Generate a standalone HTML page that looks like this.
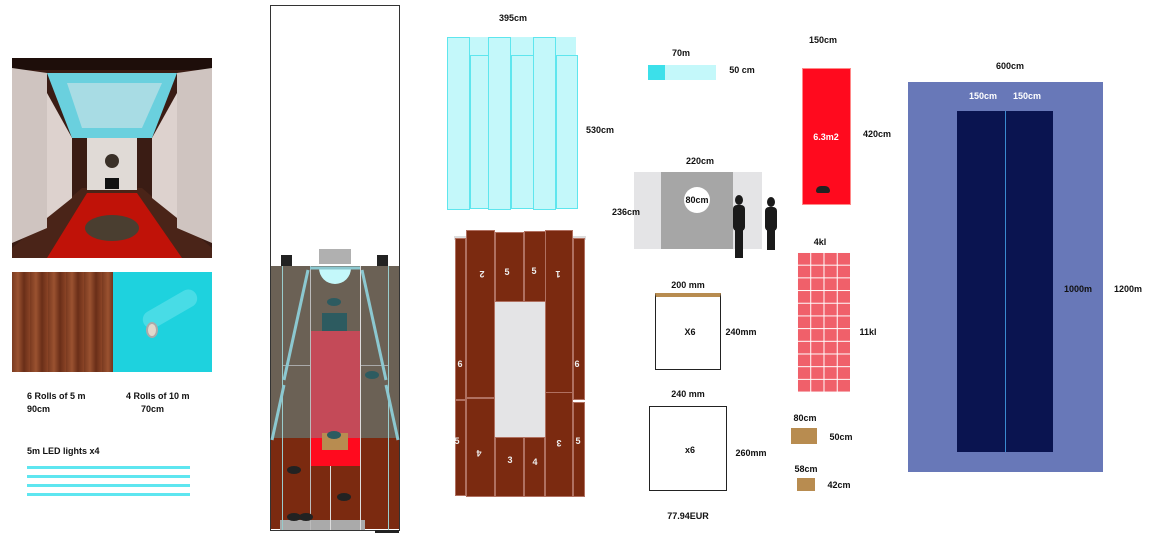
<!DOCTYPE html>
<html><head><meta charset="utf-8"><style>
body{margin:0;width:1161px;height:534px;background:#fff;position:relative;overflow:hidden;font-family:"Liberation Sans",sans-serif;font-weight:bold;font-size:9px;color:#111}
div{position:absolute;box-sizing:border-box}
.t{white-space:nowrap;transform:translate(-50%,-50%);z-index:5}
.tl{white-space:nowrap}
.cy{background:#c4f8fa;border:1px solid #5ee6ee}
.pl{background:#7b2a10;border:1px solid #b07060}
.pn{color:#eee;font-size:9px}
</style></head><body>
<!-- photo -->
<svg style="position:absolute;left:12px;top:58px" width="200" height="200">
<rect width="200" height="200" fill="#3a1c14"/>
<rect width="200" height="12" fill="#1e0e0a"/>
<polygon points="0,200 0,190 70,130 130,130 200,190 200,200" fill="#4a2418"/>
<polygon points="75,135 125,135 170,200 35,200" fill="#c01208"/>
<polygon points="35,15 165,15 140,80 60,80" fill="#6ad0de"/>
<polygon points="55,25 150,25 130,70 70,70" fill="#a8dce4"/>
<rect x="75" y="80" width="50" height="52" fill="#e0dad6"/>
<polygon points="0,10 35,15 35,170 0,185" fill="#cfc4c0"/>
<polygon points="35,35 60,80 60,140 35,160" fill="#ddd2ce"/>
<polygon points="200,10 165,15 165,170 200,185" fill="#cfc4c0"/>
<polygon points="165,35 140,80 140,140 165,160" fill="#ddd2ce"/>
<circle cx="100" cy="103" r="7" fill="#3a3028"/>
<rect x="93" y="120" width="14" height="11" fill="#111"/>
<ellipse cx="100" cy="170" rx="27" ry="13" fill="#4a3e30"/>
</svg>
<!-- wood & cyan -->
<div style="left:12px;top:272px;width:101px;height:100px;background:repeating-linear-gradient(90deg,#7a3a20 0,#9a5230 6px,#6a2e18 12px,#8a4426 18px)"></div>
<div style="left:113px;top:272px;width:99px;height:100px;background:#1ed2de"></div>
<div style="left:140px;top:300px;width:60px;height:18px;background:#48dce6;transform:rotate(-30deg);border-radius:9px"></div>
<div style="left:146px;top:322px;width:12px;height:16px;border-radius:50%;background:#e0d8cc;border:2px solid #aaa"></div>
<div class="tl" style="left:27px;top:391px">6 Rolls of 5 m</div>
<div class="tl" style="left:27px;top:404px">90cm</div>
<div class="tl" style="left:126px;top:391px">4 Rolls of 10 m</div>
<div class="tl" style="left:141px;top:404px">70cm</div>
<div class="tl" style="left:27px;top:446px">5m LED lights x4</div>
<div style="left:27px;top:466px;width:163px;height:3px;background:#5ee6f0"></div>
<div style="left:27px;top:475px;width:163px;height:3px;background:#5ee6f0"></div>
<div style="left:27px;top:484px;width:163px;height:3px;background:#5ee6f0"></div>
<div style="left:27px;top:493px;width:163px;height:3px;background:#5ee6f0"></div>
<!-- floor plan -->
<div style="left:270px;top:5px;width:130px;height:526px;border:1px solid #333"></div>
<div style="left:271px;top:266px;width:128px;height:172px;background:#6b6155"></div>
<div style="left:271px;top:438px;width:128px;height:91px;background:#7b2a10"></div>
<div style="left:282px;top:365px;width:28px;height:1px;background:#aaa"></div>
<div style="left:360px;top:365px;width:28px;height:1px;background:#aaa"></div>
<div style="left:310px;top:331px;width:50px;height:107px;background:#c44a58"></div>
<div style="left:310px;top:438px;width:50px;height:28px;background:#ff0a1e"></div>
<div style="left:322px;top:433px;width:26px;height:17px;background:#b88c50"></div>
<div style="left:322px;top:313px;width:25px;height:18px;background:#2d5b60"></div>
<div style="left:319px;top:268px;width:32px;height:16px;border-radius:0 0 16px 16px;background:#c4f8fa"></div>
<div style="left:319px;top:249px;width:32px;height:15px;background:#b0b0b0"></div>
<div style="left:281px;top:255px;width:11px;height:11px;background:#222"></div>
<div style="left:377px;top:255px;width:11px;height:11px;background:#222"></div>
<div style="left:280px;top:520px;width:85px;height:10px;background:#aaa"></div>
<div style="left:375px;top:530px;width:24px;height:3px;background:#222"></div>
<div style="left:282px;top:266px;width:1px;height:264px;background:#9cc"></div>
<div style="left:388px;top:266px;width:1px;height:264px;background:#9cc"></div>
<div style="left:310px;top:266px;width:1px;height:264px;background:#bbb"></div>
<div style="left:360px;top:266px;width:1px;height:264px;background:#ddd"></div>
<div style="left:330px;top:466px;width:1px;height:64px;background:#ddd"></div>
<svg style="position:absolute;left:270px;top:260px" width="130" height="280">
<g stroke="#8cc8d0" stroke-width="3" fill="none"><line x1="40" y1="8" x2="90" y2="8"/><line x1="38" y1="10" x2="14" y2="120"/><line x1="14" y1="125" x2="2" y2="180"/><line x1="92" y1="10" x2="116" y2="120"/><line x1="116" y1="125" x2="128" y2="180"/></g>
<g fill="#2d5b60"><ellipse cx="64" cy="42" rx="7" ry="4"/><ellipse cx="102" cy="115" rx="7" ry="4"/><ellipse cx="64" cy="175" rx="7" ry="4"/></g>
<g fill="#222"><ellipse cx="24" cy="210" rx="7" ry="4"/><ellipse cx="74" cy="237" rx="7" ry="4"/><ellipse cx="24" cy="257" rx="7" ry="4"/><ellipse cx="36" cy="257" rx="7" ry="4"/></g>
</svg>
<!-- cyan panels -->
<div class="cy" style="left:447px;top:37px;width:129px;height:20px;border:none"></div>
<div class="cy" style="left:470px;top:55px;width:19px;height:154px"></div>
<div class="cy" style="left:511px;top:55px;width:23px;height:154px"></div>
<div class="cy" style="left:556px;top:55px;width:22px;height:154px"></div>
<div class="cy" style="left:447px;top:37px;width:23px;height:173px"></div>
<div class="cy" style="left:488px;top:37px;width:23px;height:173px"></div>
<div class="cy" style="left:533px;top:37px;width:23px;height:173px"></div>
<div class="t" style="left:513px;top:18px">395cm</div>
<div class="t" style="left:600px;top:130px">530cm</div>
<!-- planks -->
<div style="left:454px;top:236px;width:132px;height:4px;background:#ddd"></div>
<div class="pl" style="left:455px;top:238px;width:11px;height:162px"></div>
<div class="pl" style="left:455px;top:400px;width:11px;height:96px"></div>
<div class="pl" style="left:466px;top:230px;width:29px;height:168px"></div>
<div class="pl" style="left:466px;top:398px;width:29px;height:99px"></div>
<div class="pl" style="left:495px;top:232px;width:29px;height:70px"></div>
<div class="pl" style="left:524px;top:231px;width:29px;height:71px"></div>
<div class="pl" style="left:545px;top:230px;width:28px;height:168px"></div>
<div class="pl" style="left:573px;top:238px;width:12px;height:162px"></div>
<div style="left:495px;top:302px;width:50px;height:136px;background:#e4e4e6"></div>
<div class="pl" style="left:495px;top:437px;width:29px;height:60px"></div>
<div class="pl" style="left:524px;top:437px;width:21px;height:60px"></div>
<div class="pl" style="left:545px;top:392px;width:28px;height:105px"></div>
<div class="pl" style="left:573px;top:402px;width:12px;height:95px"></div>
<div class="t pn" style="left:482px;top:274px;transform:translate(-50%,-50%) rotate(180deg)">2</div>
<div class="t pn" style="left:507px;top:272px">5</div>
<div class="t pn" style="left:534px;top:271px">5</div>
<div class="t pn" style="left:558px;top:274px;transform:translate(-50%,-50%) rotate(180deg)">1</div>
<div class="t pn" style="left:460px;top:364px">6</div>
<div class="t pn" style="left:577px;top:364px">6</div>
<div class="t pn" style="left:457px;top:441px">5</div>
<div class="t pn" style="left:578px;top:441px">5</div>
<div class="t pn" style="left:479px;top:453px;transform:translate(-50%,-50%) rotate(180deg)">4</div>
<div class="t pn" style="left:510px;top:460px">3</div>
<div class="t pn" style="left:535px;top:462px">4</div>
<div class="t pn" style="left:559px;top:443px;transform:translate(-50%,-50%) rotate(180deg)">3</div>
<!-- 70m -->
<div class="t" style="left:681px;top:53px">70m</div>
<div style="left:648px;top:65px;width:68px;height:15px;background:#c4f8fa"></div>
<div style="left:648px;top:65px;width:17px;height:15px;background:#3ce0ea"></div>
<div class="t" style="left:742px;top:70px">50 cm</div>
<!-- grey box -->
<div class="t" style="left:700px;top:161px">220cm</div>
<div style="left:634px;top:172px;width:128px;height:77px;background:#e4e4e6"></div>
<div style="left:661px;top:172px;width:72px;height:77px;background:#a6a6a6"></div>
<div style="left:684px;top:187px;width:26px;height:26px;border-radius:50%;background:#fff"></div>
<div class="t" style="left:697px;top:200px">80cm</div>
<div class="t" style="left:626px;top:212px">236cm</div>
<svg style="position:absolute;left:728px;top:190px" width="55" height="72" fill="#1a1a1a">
<ellipse cx="11" cy="10" rx="4" ry="5"/><rect x="5" y="15" width="12" height="26" rx="4"/><rect x="7" y="38" width="8" height="30"/>
<ellipse cx="43" cy="12" rx="4" ry="5"/><rect x="37" y="17" width="12" height="24" rx="4"/><rect x="39" y="38" width="8" height="22"/>
</svg>
<!-- red -->
<div class="t" style="left:823px;top:40px">150cm</div>
<div style="left:802px;top:68px;width:49px;height:137px;background:#ff0a1e;border:1px solid #f88"></div>
<div class="t" style="left:826px;top:137px;color:#fff">6.3m2</div>
<div style="left:816px;top:186px;width:14px;height:7px;border-radius:7px 7px 3px 3px;background:#222"></div>
<div class="t" style="left:877px;top:134px">420cm</div>
<!-- grid -->
<div class="t" style="left:820px;top:242px">4kl</div>
<div style="left:797px;top:252px;width:53px;height:140px;background-color:#f0606a;background-image:linear-gradient(90deg,#fff 1px,transparent 1px),linear-gradient(#fff 1px,transparent 1px);background-size:13.25px 12.7px"></div>
<div class="t" style="left:868px;top:332px">11kl</div>
<!-- boxes -->
<div class="t" style="left:688px;top:285px">200 mm</div>
<div style="left:655px;top:293px;width:66px;height:77px;border:1px solid #222;border-top:4px solid #b88c50"></div>
<div class="t" style="left:690px;top:332px">X6</div>
<div class="t" style="left:741px;top:332px">240mm</div>
<div class="t" style="left:688px;top:394px">240 mm</div>
<div style="left:649px;top:406px;width:78px;height:85px;border:1px solid #222"></div>
<div class="t" style="left:690px;top:450px">x6</div>
<div class="t" style="left:751px;top:453px">260mm</div>
<div class="t" style="left:688px;top:516px">77.94EUR</div>
<div class="t" style="left:805px;top:418px">80cm</div>
<div style="left:791px;top:428px;width:26px;height:16px;background:#b88c50"></div>
<div class="t" style="left:841px;top:437px">50cm</div>
<div class="t" style="left:806px;top:469px">58cm</div>
<div style="left:797px;top:478px;width:18px;height:13px;background:#b88c50"></div>
<div class="t" style="left:839px;top:485px">42cm</div>
<!-- blue -->
<div class="t" style="left:1010px;top:66px">600cm</div>
<div style="left:908px;top:82px;width:195px;height:390px;background:#6878b8"></div>
<div style="left:957px;top:111px;width:96px;height:341px;background:#0a1450"></div>
<div style="left:1005px;top:111px;width:1px;height:341px;background:#3a8ad0"></div>
<div class="t" style="left:983px;top:96px;color:#fff">150cm</div>
<div class="t" style="left:1027px;top:96px;color:#fff">150cm</div>
<div class="t" style="left:1078px;top:289px">1000m</div>
<div class="t" style="left:1128px;top:289px">1200m</div>
</body></html>
